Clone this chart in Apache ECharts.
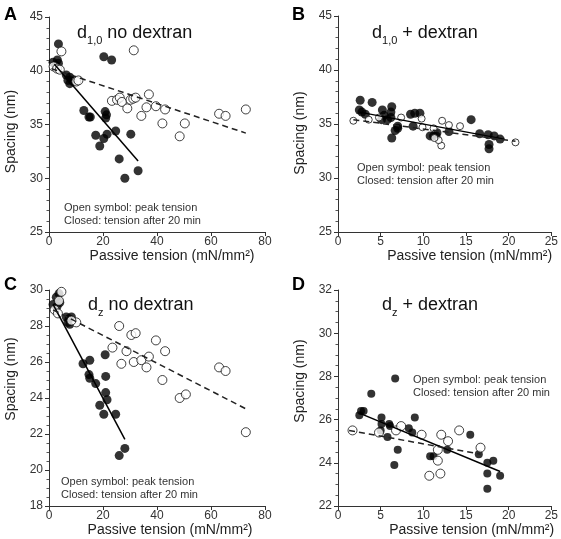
<!DOCTYPE html>
<html><head><meta charset="utf-8">
<script src="https://cdn.jsdelivr.net/npm/echarts@6/dist/echarts.min.js"></script>
<style>html,body{margin:0;padding:0;background:#fff}#c{width:561px;height:539px}</style>
</head><body><div id="c"></div>
<script>
// ---------- DATA ----------
// Panel A: d1,0 no dextran
const aClosed = [[3.5,42.5],[1.5,40.8],[3.1,41.0],[3.5,40.7],[2.5,40.5],[20.3,41.3],[23.2,41.0],[6.4,39.6],[7.7,39.4],[8.3,39.2],[7.0,39.1],[7.7,38.8],[8.9,39.0],[12.9,36.3],[14.8,35.7],[15.3,35.7],[20.8,36.2],[21.0,35.6],[21.3,35.9],[17.3,34.0],[18.8,33.0],[20.3,33.7],[21.5,34.1],[24.7,34.4],[26.0,31.8],[28.1,30.0],[30.3,34.1],[33.0,30.7]];
const aOpen = [[4.6,41.8],[31.4,41.9],[1.7,40.4],[3.0,40.2],[4.0,40.1],[10.1,39.0],[10.9,39.1],[23.3,37.2],[25.2,37.3],[26.2,37.5],[27.0,37.1],[29.0,36.5],[30.2,37.3],[31.2,37.4],[32.1,37.5],[37.0,37.8],[36.1,36.6],[34.2,35.8],[39.6,36.7],[43.0,36.4],[42.0,35.1],[50.3,35.1],[48.4,33.9],[63.0,36.0],[65.4,35.8],[72.9,36.4]];
const aFitClosed = [[2.0,40.6],[33.0,31.6]];
const aFitOpen = [[0.9,40.2],[72.9,34.2]];
// Panel B: d1,0 + dextran
const bClosed = [[2.6,37.2],[4.0,37.0],[2.5,36.3],[2.8,36.1],[3.2,35.9],[5.2,36.3],[5.4,35.8],[5.1,35.4],[5.8,35.4],[6.3,36.6],[6.2,36.1],[6.2,35.6],[6.3,33.7],[7.0,34.6],[7.0,34.8],[6.7,34.4],[8.5,35.9],[9.0,36.0],[9.6,36.0],[8.8,34.8],[10.8,33.9],[11.2,33.9],[11.5,33.9],[11.6,34.2],[13.0,34.3],[15.6,35.4],[16.6,34.1],[17.6,34.0],[17.7,33.1],[17.7,32.7],[18.3,33.9],[19.0,33.6]];
const bOpen = [[1.8,35.3],[3.6,35.4],[4.8,35.6],[7.4,35.6],[9.8,35.5],[9.9,34.7],[11.2,34.6],[12.2,35.3],[12.1,33.0],[13.0,34.9],[14.3,34.8],[11.8,33.5],[11.3,33.7],[20.8,33.3]];
const bFitClosed = [[2.5,36.1],[19.5,33.6]];
const bFitOpen = [[1.8,35.4],[20.8,33.4]];
// Panel C: dz no dextran
const cClosed = [[3.7,29.8],[2.7,29.6],[1.5,29.2],[3.0,29.1],[4.0,29.3],[6.4,28.5],[7.4,28.4],[8.3,28.5],[7.0,28.2],[7.7,28.1],[12.6,25.9],[15.1,26.1],[14.8,25.3],[15.1,25.1],[17.3,24.8],[18.8,23.6],[20.3,23.1],[20.8,26.4],[21.0,25.2],[21.0,24.3],[21.5,23.9],[24.7,23.1],[26.0,20.8],[28.1,21.2]];
const cOpen = [[4.6,29.9],[3.7,29.4],[2.1,28.9],[3.3,28.7],[10.1,28.2],[8.3,28.3],[26.0,28.0],[30.5,27.5],[32.1,27.6],[39.6,27.2],[23.5,26.8],[28.7,26.6],[26.8,25.9],[31.4,26.0],[34.2,26.1],[37.0,26.3],[36.1,25.7],[43.0,26.6],[42.0,25.0],[48.4,24.0],[50.7,24.2],[63.0,25.7],[65.4,25.5],[72.9,22.1]];
const cFitClosed = [[1.5,29.2],[28.1,21.7]];
const cFitOpen = [[1.5,28.9],[72.9,23.4]];
// Panel D: dz + dextran
const dClosed = [[6.7,27.9],[3.9,27.2],[2.5,26.2],[2.7,26.4],[3.0,26.4],[5.1,26.1],[5.1,25.8],[5.0,25.5],[6.0,25.8],[6.1,25.7],[5.8,25.2],[7.0,24.6],[6.6,23.9],[8.3,25.6],[8.7,25.4],[9.0,26.1],[10.8,24.3],[11.2,24.3],[12.8,24.6],[15.5,25.3],[16.5,24.4],[17.5,24.0],[17.5,23.5],[17.5,22.8],[18.2,24.1],[19.0,23.4]];
const dOpen = [[1.7,25.5],[4.8,25.4],[6.8,25.5],[7.4,25.7],[9.8,25.3],[10.7,23.4],[12.0,23.5],[12.1,25.3],[12.9,25.0],[14.2,25.5],[11.7,24.6],[11.7,24.1],[16.7,24.7]];
const dFitClosed = [[2.5,26.3],[19.0,23.6]];
const dFitOpen = [[1.3,25.5],[16.7,24.4]];

const xTicksA = [0, 80, 20];   // min, max, interval
const xTicksB = [0, 25, 5];
const yTicksA = [25, 45, 5];
const yTicksC = [18, 30, 2];
const yTicksD = [22, 32, 2];

const panelLetters = ['A','B','C','D'];
const xName = 'Passive tension (mN/mm²)';
const yName = 'Spacing (nm)';
const legendLine1 = 'Open symbol: peak tension';
const legendLine2 = 'Closed: tension after 20 min';

// ---------- CHART ----------
const FONT = 'Liberation Sans, Arial, sans-serif';
const grids = [
  {left:49, top:17, width:216, height:215},
  {left:338, top:16, width:217, height:216},
  {left:49, top:290, width:216, height:216},
  {left:338, top:290, width:217, height:216}
];
const xSpec = [xTicksA, xTicksB, xTicksA, xTicksB];
const ySpec = [yTicksA, yTicksA, yTicksC, yTicksD];
const yMinorSplit = [5,5,4,4];
const xNamePad = [30, 50, 26, 54];
const yNamePad = [[0,14,0,0],[0,18,0,0],[0,0,0,38],[0,0,0,34]];
const dataSets = [
  [aClosed, aOpen, aFitClosed, aFitOpen],
  [bClosed, bOpen, bFitClosed, bFitOpen],
  [cClosed, cOpen, cFitClosed, cFitOpen],
  [dClosed, dOpen, dFitClosed, dFitOpen]
];
const closedSize = [9, 9, 9, 8];
const openSize = [9, 7, 9, 9];

const xAxis = [], yAxis = [], series = [];
grids.forEach((g, i) => {
  xAxis.push({
    type:'value', gridIndex:i, min:xSpec[i][0], max:xSpec[i][1], interval:xSpec[i][2],
    name:xName, nameLocation:'middle', nameGap:13,
    nameTextStyle:{fontFamily:FONT, fontSize:14, color:'#222', padding:[0,0,0,xNamePad[i]]},
    axisLine:{lineStyle:{color:'#333', width:1}},
    axisTick:{length:4, lineStyle:{color:'#333'}},
    axisLabel:{fontFamily:FONT, fontSize:12, color:'#333', margin:4},
    splitLine:{show:false}
  });
  yAxis.push({
    type:'value', gridIndex:i, min:ySpec[i][0], max:ySpec[i][1], interval:ySpec[i][2],
    name:yName, nameLocation:'middle', nameGap:31, nameRotate:90,
    nameTextStyle:{fontFamily:FONT, fontSize:14, color:'#222', padding:yNamePad[i]},
    axisLine:{show:true, lineStyle:{color:'#333', width:1}},
    axisTick:{length:4, lineStyle:{color:'#333'}},
    minorTick:{show:true, splitNumber:yMinorSplit[i], length:2.5, lineStyle:{color:'#555'}},
    axisLabel:{fontFamily:FONT, fontSize:12, color:'#333', margin:6},
    splitLine:{show:false}
  });
  const [cl, op, fc, fo] = dataSets[i];
  series.push({type:'scatter', xAxisIndex:i, yAxisIndex:i, data:cl, symbol:'circle', symbolSize:closedSize[i],
    itemStyle:{color:'#000'}, z:2});
  series.push({type:'scatter', xAxisIndex:i, yAxisIndex:i, data:op, symbol:'circle', symbolSize:openSize[i],
    itemStyle:{color:'#fff', borderColor:'#111', borderWidth:1}, z:3});
  series.push({type:'line', xAxisIndex:i, yAxisIndex:i, data:fc, symbol:'none',
    lineStyle:{color:'#000', width:1.5, type:'solid'}, z:4});
  series.push({type:'line', xAxisIndex:i, yAxisIndex:i, data:fo, symbol:'none',
    lineStyle:{color:'#222', width:1.5, type:[6,4]}, z:4});
});

function titleText(left, top, main, sub, rest) {
  return {type:'text', left:left, top:top, z:10, style:{
    text:'{m|' + main + '}{s|' + sub + '}{m|' + rest + '}',
    rich:{
      m:{fontFamily:FONT, fontSize:18, fill:'#111', lineHeight:26, verticalAlign:'middle'},
      s:{fontFamily:FONT, fontSize:11, fill:'#111', lineHeight:12, verticalAlign:'bottom'}
    }}};
}
function legendText(left, top) {
  return {type:'text', left:left, top:top, z:10, style:{
    text: legendLine1 + '\n' + legendLine2, fontFamily:FONT, fontSize:11, fill:'#333', lineHeight:13}};
}
const letterPos = [[4,6],[292,6],[4,276],[292,276]];
const graphic = [];
panelLetters.forEach((L, i) => graphic.push({type:'text', left:letterPos[i][0], top:letterPos[i][1], z:10,
  style:{text:L, fontFamily:FONT, fontSize:18, fontWeight:'bold', fill:'#000'}}));
graphic.push(titleText(77, 24, 'd', '1,0', ' no dextran'));
graphic.push(titleText(372, 24, 'd', '1,0', ' + dextran'));
graphic.push(titleText(88, 296, 'd', 'z', ' no dextran'));
graphic.push(titleText(382, 296, 'd', 'z', ' + dextran'));
graphic.push(legendText(64, 201));
graphic.push(legendText(357, 161));
graphic.push(legendText(61, 475));
graphic.push(legendText(413, 373));

const chart = echarts.init(document.getElementById('c'), null, {renderer:'canvas'});
chart.setOption({
  backgroundColor:'#fff', animation:false,
  grid:grids, xAxis:xAxis, yAxis:yAxis, series:series, graphic:graphic
});
</script></body></html>
